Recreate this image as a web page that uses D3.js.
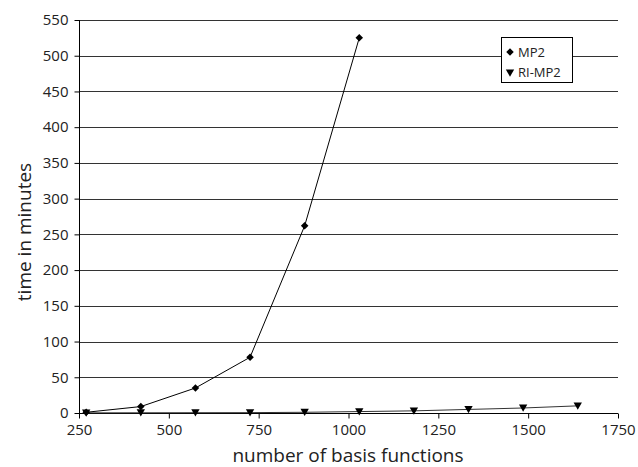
<!DOCTYPE html>
<html><head><meta charset="utf-8">
<script src="https://cdn.jsdelivr.net/npm/d3@7"></script>
<style>body{margin:0;background:#fff}svg{display:block}text{font-family:"Open Sans",sans-serif}</style>
</head><body><svg id="c" width="638" height="467"></svg>
<script>
const mp2X = [270, 422, 574, 726, 878, 1030];
const mp2Y = [1, 9, 35, 78, 262, 525];
const riX = [270, 422, 574, 726, 878, 1030, 1182, 1334, 1486, 1638];
const riY = [0.2, 0.3, 0.4, 0.5, 1, 2, 3, 5, 7, 10];
const xTicks = [250, 500, 750, 1000, 1250, 1500, 1750];
const yTicks = [0, 50, 100, 150, 200, 250, 300, 350, 400, 450, 500, 550];

const svg = d3.select("#c");
const x = d3.scaleLinear().domain([250, 1750]).range([79, 618]);
const y = d3.scaleLinear().domain([0, 550]).range([413, 20]);
const FONT = '"Open Sans",sans-serif';

// grid
svg.append("g").selectAll("line").data(yTicks.filter(d => d > 0)).join("line")
  .attr("x1", 79).attr("x2", 618).attr("y1", d => Math.round(y(d)) + 0.5).attr("y2", d => Math.round(y(d)) + 0.5)
  .attr("stroke", "#333").attr("stroke-width", 1);

// axes
const fmt = d3.format("d");
const ya = svg.append("g").attr("transform", "translate(79.5,0)")
  .call(d3.axisLeft(y).tickValues(yTicks).tickFormat(fmt).tickSize(5).tickPadding(6));
const xa = svg.append("g").attr("transform", "translate(0,413.5)")
  .call(d3.axisBottom(x).tickValues(xTicks).tickFormat(fmt).tickSize(5).tickPadding(6));
[ya, xa].forEach(a => {
  a.select(".domain").attr("stroke", "#000");
  a.selectAll(".tick line").attr("stroke", "#000");
  a.selectAll("text").attr("font-size", 15).attr("fill", "#222").style("font-family", FONT);
});
ya.select(".domain").attr("d", "M0,20V413");
xa.select(".domain").attr("d", "M79,0H618");

const line = d3.line().x(d => x(d[0])).y(d => y(d[1]));
const mp2 = mp2X.map((v, i) => [v, mp2Y[i]]);
const ri = riX.map((v, i) => [v, riY[i]]);

svg.append("path").datum(ri).attr("d", line).attr("fill", "none").attr("stroke", "#333").attr("stroke-width", 1);
svg.append("path").datum(mp2).attr("d", line).attr("fill", "none").attr("stroke", "#000").attr("stroke-width", 1);

const diamond = d3.symbol().type(d3.symbolDiamond2).size(36);
const tri = d3.symbol().type(d3.symbolTriangle2).size(50);
svg.append("g").selectAll("path").data(mp2).join("path")
  .attr("d", diamond).attr("transform", d => `translate(${x(d[0])},${y(d[1])})`).attr("fill", "#000");
svg.append("g").selectAll("path").data(ri).join("path")
  .attr("d", tri).attr("transform", d => `translate(${x(d[0])},${y(d[1]) - 1}) rotate(180)`).attr("fill", "#000");

// legend
const lg = svg.append("g");
lg.append("rect").attr("x", 501.5).attr("y", 37.5).attr("width", 71).attr("height", 45)
  .attr("fill", "#fff").attr("stroke", "#000");
lg.append("path").attr("d", diamond).attr("transform", "translate(510,52)").attr("fill", "#000");
lg.append("path").attr("d", tri).attr("transform", "translate(510,72) rotate(180)").attr("fill", "#000");
lg.append("text").attr("x", 518).attr("y", 56.5).attr("font-size", 13).attr("fill", "#222").text("MP2");
lg.append("text").attr("x", 518).attr("y", 77).attr("font-size", 13).attr("fill", "#222").text("RI-MP2");

// titles
svg.append("text").attr("x", 348).attr("y", 462).attr("text-anchor", "middle").attr("font-size", 19).attr("fill", "#222")
  .text("number of basis functions");
svg.append("text").attr("transform", "translate(31,232) rotate(-90)").attr("text-anchor", "middle").attr("font-size", 19).attr("fill", "#222")
  .text("time in minutes");
</script></body></html>
